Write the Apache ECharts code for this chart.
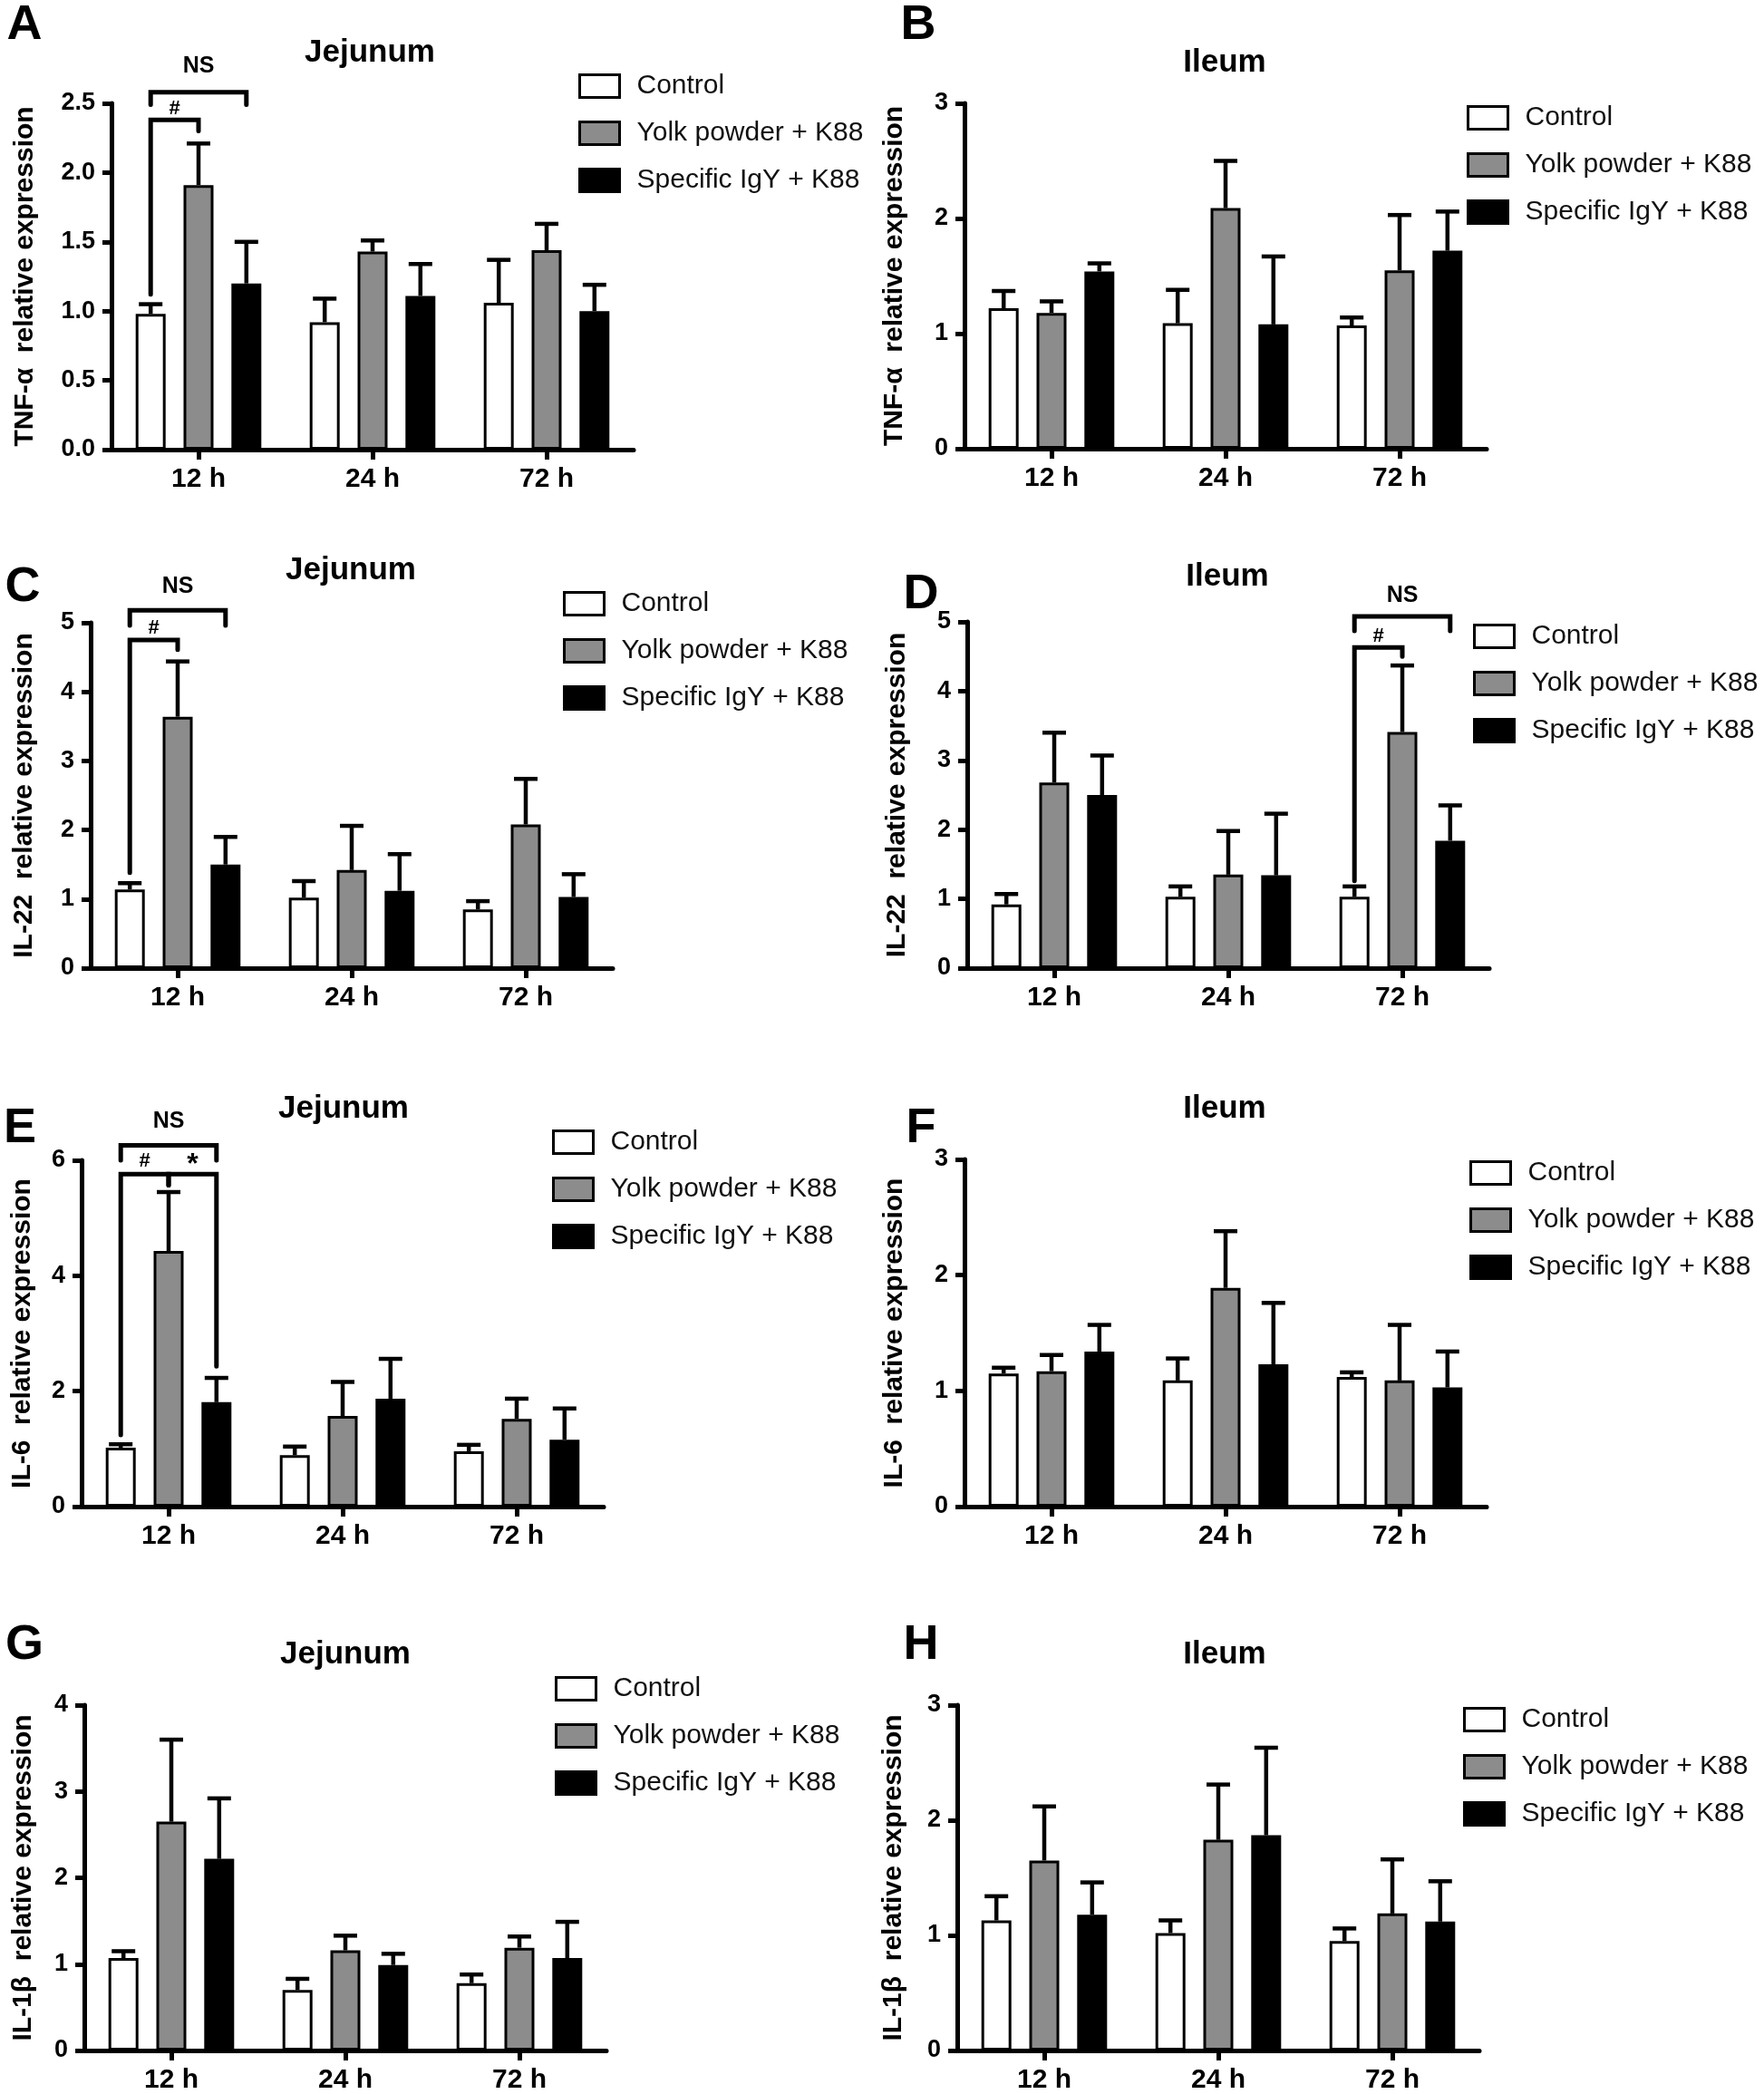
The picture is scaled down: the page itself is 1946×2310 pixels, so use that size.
<!DOCTYPE html>
<html><head><meta charset="utf-8">
<script src="https://cdn.jsdelivr.net/npm/echarts@6/dist/echarts.min.js"></script>
<style>html,body{margin:0;padding:0;background:#fff}#c{width:1946px;height:2310px}</style>
</head><body><div id="c"></div><script>
// ---------- DATA ----------
const categories = ['12 h', '24 h', '72 h'];
const groups = ['Control', 'Yolk powder + K88', 'Specific IgY + K88'];

// A: TNF-α, Jejunum (mean, error-bar top)
const tnfJejControl = [0.98, 0.92, 1.06];  const tnfJejControlTop = [1.05, 1.09, 1.37];
const tnfJejYolk    = [1.91, 1.43, 1.44];  const tnfJejYolkTop    = [2.21, 1.51, 1.63];
const tnfJejIgy     = [1.20, 1.11, 1.00];  const tnfJejIgyTop     = [1.50, 1.34, 1.19];
// B: TNF-α, Ileum
const tnfIleControl = [1.22, 1.09, 1.07];  const tnfIleControlTop = [1.37, 1.38, 1.14];
const tnfIleYolk    = [1.18, 2.09, 1.55];  const tnfIleYolkTop    = [1.28, 2.50, 2.03];
const tnfIleIgy     = [1.54, 1.08, 1.72];  const tnfIleIgyTop     = [1.61, 1.67, 2.06];
// C: IL-22, Jejunum
const il22JejControl = [1.14, 1.02, 0.85]; const il22JejControlTop = [1.23, 1.26, 0.97];
const il22JejYolk    = [3.64, 1.42, 2.08]; const il22JejYolkTop    = [4.44, 2.06, 2.74];
const il22JejIgy     = [1.50, 1.12, 1.03]; const il22JejIgyTop     = [1.90, 1.65, 1.36];
// D: IL-22, Ileum
const il22IleControl = [0.92, 1.03, 1.03]; const il22IleControlTop = [1.07, 1.18, 1.18];
const il22IleYolk    = [2.68, 1.35, 3.41]; const il22IleYolkTop    = [3.40, 1.98, 4.37];
const il22IleIgy     = [2.50, 1.34, 1.84]; const il22IleIgyTop     = [3.07, 2.23, 2.35];
// E: IL-6, Jejunum
const il6JejControl = [1.02, 0.89, 0.96];  const il6JejControlTop = [1.08, 1.04, 1.07];
const il6JejYolk    = [4.43, 1.57, 1.52];  const il6JejYolkTop    = [5.45, 2.16, 1.87];
const il6JejIgy     = [1.81, 1.87, 1.16];  const il6JejIgyTop     = [2.23, 2.56, 1.70];
// F: IL-6, Ileum
const il6IleControl = [1.15, 1.09, 1.12];  const il6IleControlTop = [1.20, 1.28, 1.16];
const il6IleYolk    = [1.17, 1.89, 1.09];  const il6IleYolkTop    = [1.31, 2.38, 1.57];
const il6IleIgy     = [1.34, 1.23, 1.03];  const il6IleIgyTop     = [1.57, 1.76, 1.34];
// G: IL-1β, Jejunum
const il1bJejControl = [1.07, 0.70, 0.78]; const il1bJejControlTop = [1.15, 0.83, 0.88];
const il1bJejYolk    = [2.65, 1.16, 1.19]; const il1bJejYolkTop    = [3.60, 1.33, 1.32];
const il1bJejIgy     = [2.22, 0.99, 1.07]; const il1bJejIgyTop     = [2.92, 1.12, 1.49];
// H: IL-1β, Ileum
const il1bIleControl = [1.13, 1.02, 0.95]; const il1bIleControlTop = [1.34, 1.13, 1.06];
const il1bIleYolk    = [1.65, 1.83, 1.19]; const il1bIleYolkTop    = [2.12, 2.31, 1.66];
const il1bIleIgy     = [1.18, 1.87, 1.12]; const il1bIleIgyTop     = [1.46, 2.63, 1.47];

// significance brackets: category, bar from/to, bracket level, leg ends, label level
const sigA = [
  {cat: 0, from: 0, to: 2, y: 2.58, legL: 2.49, legR: 2.49, label: 'NS', labelY: 2.77},
  {cat: 0, from: 0, to: 1, y: 2.38, legL: 1.12, legR: 2.30, label: '#', labelY: 2.46}
];
const sigC = [
  {cat: 0, from: 0, to: 2, y: 5.18, legL: 4.96, legR: 4.96, label: 'NS', labelY: 5.52},
  {cat: 0, from: 0, to: 1, y: 4.75, legL: 1.38, legR: 4.61, label: '#', labelY: 4.92}
];
const sigD = [
  {cat: 2, from: 0, to: 2, y: 5.08, legL: 4.87, legR: 4.87, label: 'NS', labelY: 5.38},
  {cat: 2, from: 0, to: 1, y: 4.63, legL: 1.26, legR: 4.50, label: '#', labelY: 4.79}
];
const sigE = [
  {cat: 0, from: 0, to: 2, y: 6.26, legL: 6.00, legR: 6.00, label: 'NS', labelY: 6.68},
  {cat: 0, from: 0, to: 1, y: 5.76, legL: 1.24, legR: 5.57, label: '#', labelY: 5.98},
  {cat: 0, from: 1, to: 2, y: 5.76, legL: 5.57, legR: 2.43, label: '*', labelY: 5.92}
];

// ---------- LAYOUT / STYLE ----------
const FONT = '"Liberation Sans", Arial, Helvetica, sans-serif';
const BAR_W = 33, BAR_GAP = 0.6;
const fills = ['#ffffff', '#8c8c8c', '#000000'];

const panels = [
  {letter:'A', title:'Jejunum', yName:'TNF-α  relative expression', max:2.5, interval:0.5, dec:1,
   means:[tnfJejControl,tnfJejYolk,tnfJejIgy], tops:[tnfJejControlTop,tnfJejYolkTop,tnfJejIgyTop], sig:sigA,
   gx:123, gy:114, gh:382, nameGap:80, tx:408, ty:58, lx:27, ly:28, lgx:633, lgy:75},
  {letter:'B', title:'Ileum', yName:'TNF-α  relative expression', max:3, interval:1, dec:0,
   means:[tnfIleControl,tnfIleYolk,tnfIleIgy], tops:[tnfIleControlTop,tnfIleYolkTop,tnfIleIgyTop], sig:null,
   gx:1064, gy:114, gh:381, nameGap:62, tx:1351, ty:69, lx:1013, ly:28, lgx:1613, lgy:110},
  {letter:'C', title:'Jejunum', yName:'IL-22  relative expression', max:5, interval:1, dec:0,
   means:[il22JejControl,il22JejYolk,il22JejIgy], tops:[il22JejControlTop,il22JejYolkTop,il22JejIgyTop], sig:sigC,
   gx:100, gy:687, gh:381, nameGap:58, tx:387, ty:629, lx:25, ly:648, lgx:616, lgy:646},
  {letter:'D', title:'Ileum', yName:'IL-22  relative expression', max:5, interval:1, dec:0,
   means:[il22IleControl,il22IleYolk,il22IleIgy], tops:[il22IleControlTop,il22IleYolkTop,il22IleIgyTop], sig:sigD,
   gx:1067, gy:686, gh:382, nameGap:62, tx:1354, ty:636, lx:1016, ly:656, lgx:1620, lgy:682},
  {letter:'E', title:'Jejunum', yName:'IL-6  relative expression', max:6, interval:2, dec:0,
   means:[il6JejControl,il6JejYolk,il6JejIgy], tops:[il6JejControlTop,il6JejYolkTop,il6JejIgyTop], sig:sigE,
   gx:90, gy:1280, gh:382, nameGap:50, tx:379, ty:1223, lx:22, ly:1245, lgx:604, lgy:1240},
  {letter:'F', title:'Ileum', yName:'IL-6  relative expression', max:3, interval:1, dec:0,
   means:[il6IleControl,il6IleYolk,il6IleIgy], tops:[il6IleControlTop,il6IleYolkTop,il6IleIgyTop], sig:null,
   gx:1064, gy:1279, gh:383, nameGap:62, tx:1351, ty:1223, lx:1016, ly:1245, lgx:1616, lgy:1274},
  {letter:'G', title:'Jejunum', yName:'IL-1β  relative expression', max:4, interval:1, dec:0,
   means:[il1bJejControl,il1bJejYolk,il1bJejIgy], tops:[il1bJejControlTop,il1bJejYolkTop,il1bJejIgyTop], sig:null,
   gx:93, gy:1881, gh:384, nameGap:52, tx:381, ty:1825, lx:27, ly:1815, lgx:607, lgy:1843},
  {letter:'H', title:'Ileum', yName:'IL-1β  relative expression', max:3, interval:1, dec:0,
   means:[il1bIleControl,il1bIleYolk,il1bIleIgy], tops:[il1bIleControlTop,il1bIleYolkTop,il1bIleIgyTop], sig:null,
   gx:1056, gy:1881, gh:381, nameGap:55, tx:1351, ty:1825, lx:1016, ly:1815, lgx:1609, lgy:1877}
];

const barOffset = i => (i - 1) * BAR_W * (1 + BAR_GAP);

function errRender(params, api) {
  const cat = api.value(0), g = api.value(1);
  const p0 = api.coord([cat, api.value(2)]);
  const p1 = api.coord([cat, api.value(3)]);
  const x = p0[0] + barOffset(g);
  const cap = 26;
  return {type: 'group', children: [
    {type: 'line', shape: {x1: x, y1: p0[1], x2: x, y2: p1[1]}, style: {stroke: '#000', lineWidth: 4.5}},
    {type: 'line', shape: {x1: x - cap / 2, y1: p1[1], x2: x + cap / 2, y2: p1[1]}, style: {stroke: '#000', lineWidth: 4.5}}
  ]};
}

function sigRender(list) {
  return function (params, api) {
    const s = list[params.dataIndex];
    const base = api.coord([s.cat, s.y]);
    const xl = base[0] + barOffset(s.from), xr = base[0] + barOffset(s.to);
    const yl = api.coord([s.cat, s.legL])[1], yr = api.coord([s.cat, s.legR])[1];
    const lt = api.coord([s.cat, s.labelY])[1];
    const fs = s.label === 'NS' ? 25 : (s.label === '*' ? 32 : 22);
    return {type: 'group', children: [
      {type: 'polyline', shape: {points: [[xl, yl], [xl, base[1]], [xr, base[1]], [xr, yr]]},
       style: {stroke: '#000', lineWidth: 5, fill: null, lineJoin: 'miter', lineCap: 'round'}},
      {type: 'text', x: (xl + xr) / 2, y: lt,
       style: {text: s.label, font: 'bold ' + fs + 'px ' + FONT, fill: '#000',
               textAlign: 'center', textVerticalAlign: 'middle', align: 'center', verticalAlign: 'middle'}}
    ]};
  };
}

const option = {
  animation: false,
  backgroundColor: '#ffffff',
  grid: [], xAxis: [], yAxis: [], series: [], legend: [], graphic: []
};

panels.forEach((p, i) => {
  option.grid.push({left: p.gx, top: p.gy, width: 576, height: p.gh, containLabel: false});
  option.xAxis.push({
    gridIndex: i, type: 'category', data: categories,
    axisLine: {show: true, lineStyle: {color: '#000', width: 5}},
    axisTick: {show: true, alignWithLabel: true, length: 11, lineStyle: {color: '#000', width: 5}},
    axisLabel: {fontSize: 30, fontWeight: 'bold', color: '#000', fontFamily: FONT, margin: 18},
    splitLine: {show: false}
  });
  option.yAxis.push({
    gridIndex: i, type: 'value', min: 0, max: p.max, interval: p.interval,
    name: p.yName, nameLocation: 'middle', nameGap: p.nameGap,
    nameTextStyle: {fontSize: 30, fontWeight: 'bold', fontFamily: FONT, color: '#000'},
    axisLine: {show: true, lineStyle: {color: '#000', width: 5}},
    axisTick: {show: true, length: 10, lineStyle: {color: '#000', width: 5}},
    axisLabel: {fontSize: 27, fontWeight: 'bold', color: '#000', fontFamily: FONT, margin: 18,
                formatter: v => v.toFixed(p.dec)},
    splitLine: {show: false}
  });
  groups.forEach((g, k) => {
    option.series.push({
      type: 'bar', name: g, xAxisIndex: i, yAxisIndex: i, data: p.means[k],
      barWidth: BAR_W, barGap: (BAR_GAP * 100) + '%', silent: true, z: 2,
      itemStyle: {color: fills[k], borderColor: '#000', borderWidth: 3}
    });
  });
  const errData = [];
  groups.forEach((g, k) => categories.forEach((c, ci) => errData.push([ci, k, p.means[k][ci], p.tops[k][ci]])));
  option.series.push({
    type: 'custom', xAxisIndex: i, yAxisIndex: i, data: errData, renderItem: errRender,
    encode: {x: 0, y: [2, 3]}, silent: true, z: 3
  });
  if (p.sig) {
    option.series.push({
      type: 'custom', xAxisIndex: i, yAxisIndex: i, data: p.sig.map(s => [s.cat, s.y]),
      renderItem: sigRender(p.sig), encode: {x: 0, y: 1}, silent: true, z: 4, clip: false
    });
  }
  option.legend.push({
    data: groups, orient: 'vertical', left: p.lgx, top: p.lgy,
    itemWidth: 44, itemHeight: 25, itemGap: 22, icon: 'rect', selectedMode: false,
    itemStyle: {borderColor: '#000', borderWidth: 3},
    textStyle: {fontSize: 30, fontFamily: FONT, color: '#111', padding: [0, 0, 0, 14]}
  });
  option.graphic.push({type: 'text', x: p.tx, y: p.ty,
    style: {text: p.title, font: 'bold 35px ' + FONT, fill: '#000', textAlign: 'center', textVerticalAlign: 'middle'}});
  option.graphic.push({type: 'text', x: p.lx, y: p.ly,
    style: {text: p.letter, font: 'bold 54px ' + FONT, fill: '#000', textAlign: 'center', textVerticalAlign: 'middle'}});
});

const chart = echarts.init(document.getElementById('c'), null, {renderer: 'canvas'});
chart.setOption(option);
</script></body></html>
